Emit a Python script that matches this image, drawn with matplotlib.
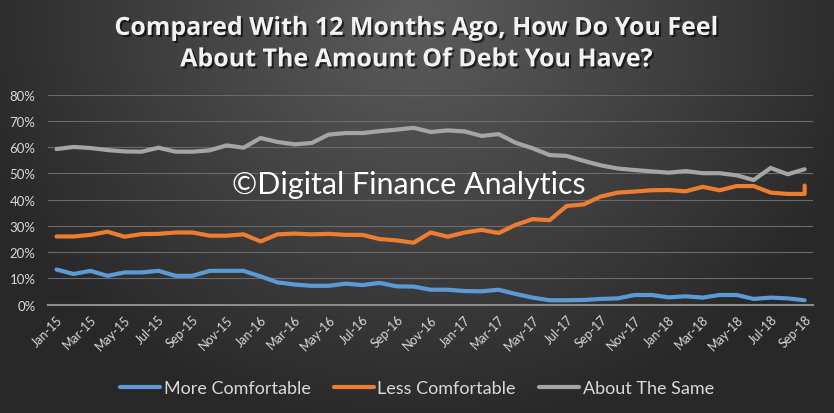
import numpy as np
import matplotlib
matplotlib.use("Agg")
import matplotlib.pyplot as plt
from matplotlib.ticker import PercentFormatter
import matplotlib.patheffects as pe

# monthly labels, Jan-15 .. Sep-18
months = ['Jan-15', 'Feb-15', 'Mar-15', 'Apr-15', 'May-15', 'Jun-15', 'Jul-15', 'Aug-15',
          'Sep-15', 'Oct-15', 'Nov-15', 'Dec-15', 'Jan-16', 'Feb-16', 'Mar-16', 'Apr-16',
          'May-16', 'Jun-16', 'Jul-16', 'Aug-16', 'Sep-16', 'Oct-16', 'Nov-16', 'Dec-16',
          'Jan-17', 'Feb-17', 'Mar-17', 'Apr-17', 'May-17', 'Jun-17', 'Jul-17', 'Aug-17',
          'Sep-17', 'Oct-17', 'Nov-17', 'Dec-17', 'Jan-18', 'Feb-18', 'Mar-18', 'Apr-18',
          'May-18', 'Jun-18', 'Jul-18', 'Aug-18', 'Sep-18']

more_comfortable = [13.4, 11.7, 12.9, 11.0, 12.3, 12.3, 12.9, 11.0, 11.0, 12.9, 12.9, 12.9,
                    10.8, 8.5, 7.7, 7.2, 7.2, 8.0, 7.5, 8.3, 7.0, 6.9, 5.7, 5.7,
                    5.2, 5.1, 5.7, 4.1, 2.7, 1.7, 1.7, 1.8, 2.2, 2.4, 3.7, 3.7,
                    2.8, 3.2, 2.7, 3.7, 3.7, 2.2, 2.7, 2.4, 1.7]

less_comfortable = [26.0, 26.0, 26.6, 27.8, 25.9, 26.9, 27.0, 27.5, 27.5, 26.3, 26.3, 26.8,
                    24.1, 26.8, 27.1, 26.8, 27.0, 26.6, 26.6, 25.0, 24.5, 23.6, 27.5, 25.9,
                    27.5, 28.5, 27.3, 30.4, 32.6, 32.2, 37.6, 38.2, 41.2, 42.7, 43.1, 43.6,
                    43.7, 43.2, 44.9, 43.6, 45.2, 45.2, 42.7, 42.2, 42.2]
less_last = 45.4  # second reading at Sep-18

about_same = [59.3, 60.1, 59.7, 58.9, 58.4, 58.3, 59.8, 58.3, 58.3, 58.8, 60.7, 59.8,
              63.5, 62.0, 61.1, 61.6, 64.8, 65.4, 65.4, 66.1, 66.7, 67.4, 65.8, 66.4,
              66.0, 64.3, 65.0, 61.7, 59.6, 57.0, 56.7, 54.8, 53.1, 51.9, 51.3, 50.8,
              50.3, 50.9, 50.1, 50.1, 49.3, 47.5, 52.1, 49.7, 51.6]

BLUE = '#5b9bd5'
ORANGE = '#ed7d31'
GREY = '#a5a5a5'
TXT = '#d9d9d9'

plt.rcParams['font.family'] = ['Lato', 'DejaVu Sans']

fig = plt.figure(figsize=(8.34, 4.14), dpi=100)

# radial dark background, lighter near top centre
bg = fig.add_axes([0, 0, 1, 1], zorder=-10)
gx, gy = np.meshgrid(np.linspace(-1, 1, 400), np.linspace(0, 1, 200))
r = np.sqrt((gx / 1.1) ** 2 + ((gy - 0.05) / 1.0) ** 2)
shade = np.clip(0.36 - 0.20 * r, 0.16, 0.36)
bg.imshow(np.dstack([shade] * 3), aspect='auto', extent=[0, 1, 0, 1], origin='upper')
bg.set_axis_off()

ax = fig.add_axes([0.0576, 0.2616, 0.9174, 0.5072])
ax.set_facecolor('none')

x = np.arange(len(months))
ax.plot(x, np.array(more_comfortable) / 100, color=BLUE, lw=3, label='More Comfortable',
        solid_capstyle='round', solid_joinstyle='round')
ax.plot(np.append(x, x[-1]), np.append(less_comfortable, less_last) / 100, color=ORANGE, lw=3,
        label='Less Comfortable', solid_capstyle='round', solid_joinstyle='round')
ax.plot(x, np.array(about_same) / 100, color=GREY, lw=3, label='About The Same',
        solid_capstyle='round', solid_joinstyle='round')

ax.set_xlim(-0.5, len(months) - 0.5)
ax.set_ylim(0, 0.8)
ax.set_yticks(np.arange(0, 0.81, 0.1))
ax.yaxis.set_major_formatter(PercentFormatter(1.0, decimals=0))
ax.grid(axis='y', color='#6a6a6a', lw=0.8)
ax.set_axisbelow(True)
for s in ['top', 'right', 'left']:
    ax.spines[s].set_visible(False)
ax.spines['bottom'].set_color('#8c8c8c')
ax.spines['bottom'].set_linewidth(1.5)

ax.set_xticks(x[::2])
ax.set_xticklabels(months[::2], rotation=45, ha='right', rotation_mode='anchor')
ax.tick_params(axis='x', length=0, colors=TXT, labelsize=9, pad=6)
ax.tick_params(axis='y', length=0, colors=TXT, labelsize=9.5, pad=9)

shadow = [pe.withSimplePatchShadow(offset=(1.5, -1.5), shadow_rgbFace='black', alpha=0.6)]
fig.text(0.5, 0.929, 'Compared With 12 Months Ago, How Do You Feel', ha='center', va='center',
         fontsize=18, fontweight='bold', color='#f2f2f2', family='Open Sans',
         path_effects=shadow)
fig.text(0.5, 0.853, 'About The Amount Of Debt You Have?', ha='center', va='center',
         fontsize=18, fontweight='bold', color='#f2f2f2', family='Open Sans',
         path_effects=shadow)

fig.text(0.49, 0.553, '\u00a9Digital Finance Analytics', ha='center', va='center',
         fontsize=22, color='white')

leg = fig.legend(loc='center', bbox_to_anchor=(0.5, 0.06), ncol=3, frameon=False,
                 fontsize=13, handlelength=2.2, handletextpad=0.2, columnspacing=1.3)
for t in leg.get_texts():
    t.set_color(TXT)

fig.savefig('out.png', dpi=100, facecolor='#2b2b2b')
